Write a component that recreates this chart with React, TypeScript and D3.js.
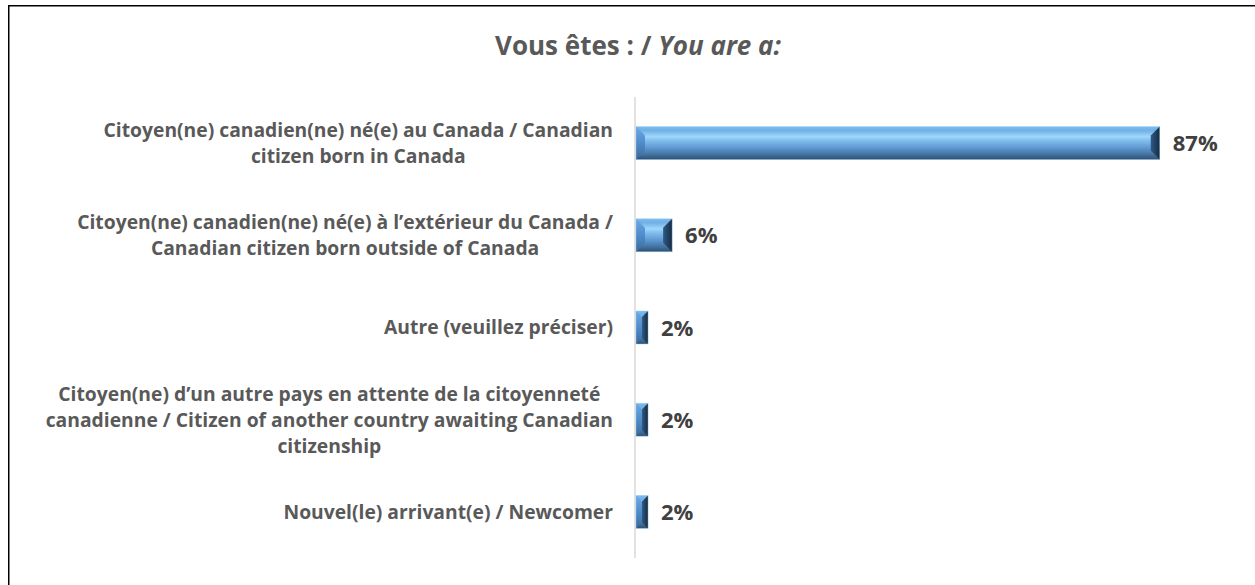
import React, { useEffect, useRef } from "react";
import * as d3 from "d3";

const categories: string[][] = [
  ["Citoyen(ne) canadien(ne) né(e) au Canada / Canadian", "citizen born in Canada"],
  ["Citoyen(ne) canadien(ne) né(e) à l’extérieur du Canada /", "Canadian citizen born outside of Canada"],
  ["Autre (veuillez préciser)"],
  [
    "Citoyen(ne) d’un autre pays en attente de la citoyenneté",
    "canadienne / Citizen of another country awaiting Canadian",
    "citizenship",
  ],
  ["Nouvel(le) arrivant(e) / Newcomer"],
];
const values: number[] = [87, 6, 2, 2, 2];
const titleParts: string[] = ["Vous êtes : / ", "You are a:"];

const W = 1255;
const H = 585;
const FONT = "'Open Sans', Lato, sans-serif";

export default function App() {
  const ref = useRef<SVGSVGElement | null>(null);

  useEffect(() => {
    const svg = d3.select(ref.current);
    svg.selectAll("*").remove();

    const defs = svg.append("defs");
    const gv = defs
      .append("linearGradient")
      .attr("id", "faceGrad")
      .attr("x1", 0)
      .attr("y1", 0)
      .attr("x2", 0)
      .attr("y2", 1);
    [
      [0, "#7fbbec"],
      [0.12, "#6fb0e6"],
      [0.3, "#9fd6fb"],
      [0.45, "#7cb9ea"],
      [0.65, "#5d98d0"],
      [0.85, "#43719f"],
      [1, "#2e5070"],
    ].forEach(([o, c]) => gv.append("stop").attr("offset", o as number).attr("stop-color", c as string));

    const gl = defs
      .append("linearGradient")
      .attr("id", "leftGrad")
      .attr("x1", 0)
      .attr("y1", 0)
      .attr("x2", 0)
      .attr("y2", 1);
    [
      [0, "#6aaae2"],
      [0.5, "#4f8ccb"],
      [1, "#3a6a9a"],
    ].forEach(([o, c]) => gl.append("stop").attr("offset", o as number).attr("stop-color", c as string));

    const gr = defs
      .append("linearGradient")
      .attr("id", "rightGrad")
      .attr("x1", 0)
      .attr("y1", 0)
      .attr("x2", 1)
      .attr("y2", 0);
    [
      [0, "#2f5a85"],
      [1, "#172b40"],
    ].forEach(([o, c]) => gr.append("stop").attr("offset", o as number).attr("stop-color", c as string));

    // outer border
    svg
      .append("rect")
      .attr("x", 8.75)
      .attr("y", 5.75)
      .attr("width", 1270)
      .attr("height", 620)
      .attr("fill", "white")
      .attr("stroke", "#000")
      .attr("stroke-width", 1.5);

    // title
    const title = svg
      .append("text")
      .attr("x", 638)
      .attr("y", 55)
      .attr("text-anchor", "middle")
      .attr("font-family", FONT)
      .attr("font-size", 26)
      .attr("font-weight", "bold")
      .attr("fill", "#595959");
    title.append("tspan").text(titleParts[0]);
    title.append("tspan").attr("font-style", "italic").text(titleParts[1]);

    const idx = values.map((_, i) => String(i));
    const y = d3.scaleBand<string>().domain(idx).range([97, 558]).paddingInner(0.642).paddingOuter(0.321);
    const x = d3.scaleLinear().domain([0, 100]).range([636, 636 + 602]);

    // axis line
    svg
      .append("line")
      .attr("x1", 635)
      .attr("x2", 635)
      .attr("y1", 97)
      .attr("y2", 558)
      .attr("stroke", "#d9d9d9")
      .attr("stroke-width", 1.5);

    const bh = y.bandwidth();
    values.forEach((v, i) => {
      const x0 = x(0);
      const x1 = x(v);
      const y0 = y(String(i))!;
      const y1 = y0 + bh;
      const b = Math.min(9, (x1 - x0) / 2, bh / 2);
      const g = svg.append("g");
      g.append("rect")
        .attr("x", x0)
        .attr("y", y0)
        .attr("width", x1 - x0)
        .attr("height", bh)
        .attr("fill", "url(#faceGrad)");
      g.append("polygon")
        .attr(
          "points",
          [
            [x0, y0],
            [x0 + b, y0 + b],
            [x0 + b, y1 - b],
            [x0, y1],
          ]
            .map((p) => p.join(","))
            .join(" ")
        )
        .attr("fill", "url(#leftGrad)");
      g.append("polygon")
        .attr(
          "points",
          [
            [x1, y0],
            [x1 - b, y0 + b],
            [x1 - b, y1 - b],
            [x1, y1],
          ]
            .map((p) => p.join(","))
            .join(" ")
        )
        .attr("fill", "url(#rightGrad)");
      g.append("rect")
        .attr("x", x0)
        .attr("y", y0)
        .attr("width", x1 - x0)
        .attr("height", bh)
        .attr("fill", "none")
        .attr("stroke", "#9dcdf2")
        .attr("stroke-width", 0.6)
        .attr("stroke-opacity", 0.7);

      // value label
      svg
        .append("text")
        .attr("x", x1 + 13)
        .attr("y", y0 + bh / 2 + 8)
        .attr("font-family", FONT)
        .attr("font-size", 22)
        .attr("font-weight", "bold")
        .attr("fill", "#404040")
        .text(d3.format(".0f")(v) + "%");

      // category label
      const lines = categories[i];
      const fs = 19.3;
      const lh = 26;
      const cy = y0 + bh / 2;
      const texts = lines.map((ln, k) =>
        svg
          .append("text")
          .attr("y", cy + (k - (lines.length - 1) / 2) * lh + fs * 0.36)
          .attr("font-family", FONT)
          .attr("font-size", fs)
          .attr("font-weight", "bold")
          .attr("fill", "#595959")
          .attr("text-anchor", "middle")
          .text(ln)
      );
      const widths = texts.map((t) => (t.node() as SVGTextElement).getComputedTextLength());
      const maxW = Math.max(...widths);
      const right = 613;
      texts.forEach((t) => t.attr("x", right - maxW / 2));
    });
  }, []);

  return (
    <svg
      ref={ref}
      width={W}
      height={H}
      style={{ position: "absolute", left: 0, top: 0, background: "white" }}
    />
  );
}
